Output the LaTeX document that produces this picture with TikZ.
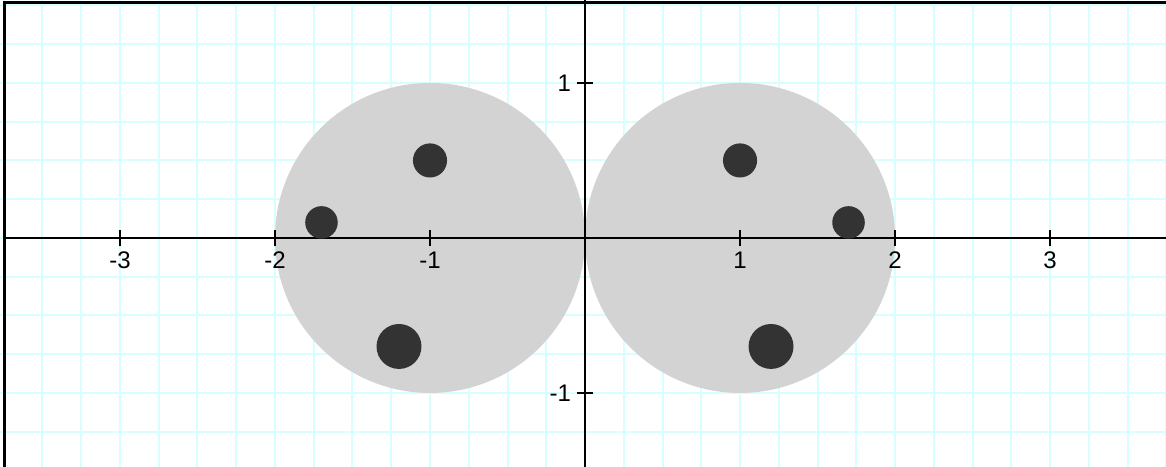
\documentclass[tikz,border=0pt]{standalone}
\usepackage{fontspec}
\setmainfont{Liberation Sans}
\usepackage{xcolor}
\definecolor{gridc}{RGB}{215,255,255}
\definecolor{diskc}{RGB}{211,211,211}
\definecolor{dotc}{RGB}{51,51,51}
\usepackage{tikz}
\usetikzlibrary{positioning}

\begin{document}
\begin{tikzpicture}[
  x=155pt,y=155pt,
  gridline/.style={draw=gridc,line width=2pt},
  axisline/.style={draw=black,line width=1.8pt},
  tickmark/.style={draw=black,line width=1.5pt},
  disk/.style={fill=diskc},
  blob/.style={fill=dotc},
  xlab/.style={anchor=north,inner sep=0pt,font=\fontsize{24}{26}\selectfont},
  ylab/.style={anchor=east,inner sep=0pt,font=\fontsize{24}{26}\selectfont}
]
  \useasboundingbox (-3.774,-1.477) rectangle (3.748,1.535);
  \clip (-3.774,-1.477) rectangle (3.748,1.535);

  % === Grid ===
  \draw[gridline,step=0.25] (-4,-1.75) grid (4,1.75);

  % === Disks ===
  \fill[disk] (-1,0) circle (1);
  \fill[disk] (1,0) circle (1);

  % === Axes ===
  \draw[axisline] (-3.745,0) -- (3.8,0);
  \draw[axisline] (0,-1.6) -- (0,1.6);
  \foreach \x in {-3,-2,-1,1,2,3}
    \draw[tickmark] (\x,-0.052) -- (\x,0.052);
  \foreach \y in {-1,1}
    \draw[tickmark] (-0.052,\y) -- (0.052,\y);

  \node[xlab] (xm3) at (-3,-0.09) {-3};
  \node[xlab] (xm2) at (-2,-0.09) {-2};
  \node[xlab] (xm1) at (-1,-0.09) {-1};
  \node[xlab] (xp1) at (1,-0.09) {1};
  \node[xlab] (xp2) at (2,-0.09) {2};
  \node[xlab] (xp3) at (3,-0.09) {3};
  \node[ylab] (yp1) at (-0.09,1) {1};
  \node[ylab] (ym1) at (-0.09,-1) {-1};

  % === Dots ===
  \fill[blob] (-1,0.5) circle (0.11);
  \fill[blob] (-1.7,0.1) circle (0.105);
  \fill[blob] (-1.2,-0.7) circle (0.145);
  \fill[blob] (1,0.5) circle (0.11);
  \fill[blob] (1.7,0.1) circle (0.105);
  \fill[blob] (1.2,-0.7) circle (0.145);

  % === Frame ===
  \draw[black,line width=3pt] (-3.745,-1.6) -- (-3.745,1.519) -- (3.8,1.519);
\end{tikzpicture}
\end{document}
